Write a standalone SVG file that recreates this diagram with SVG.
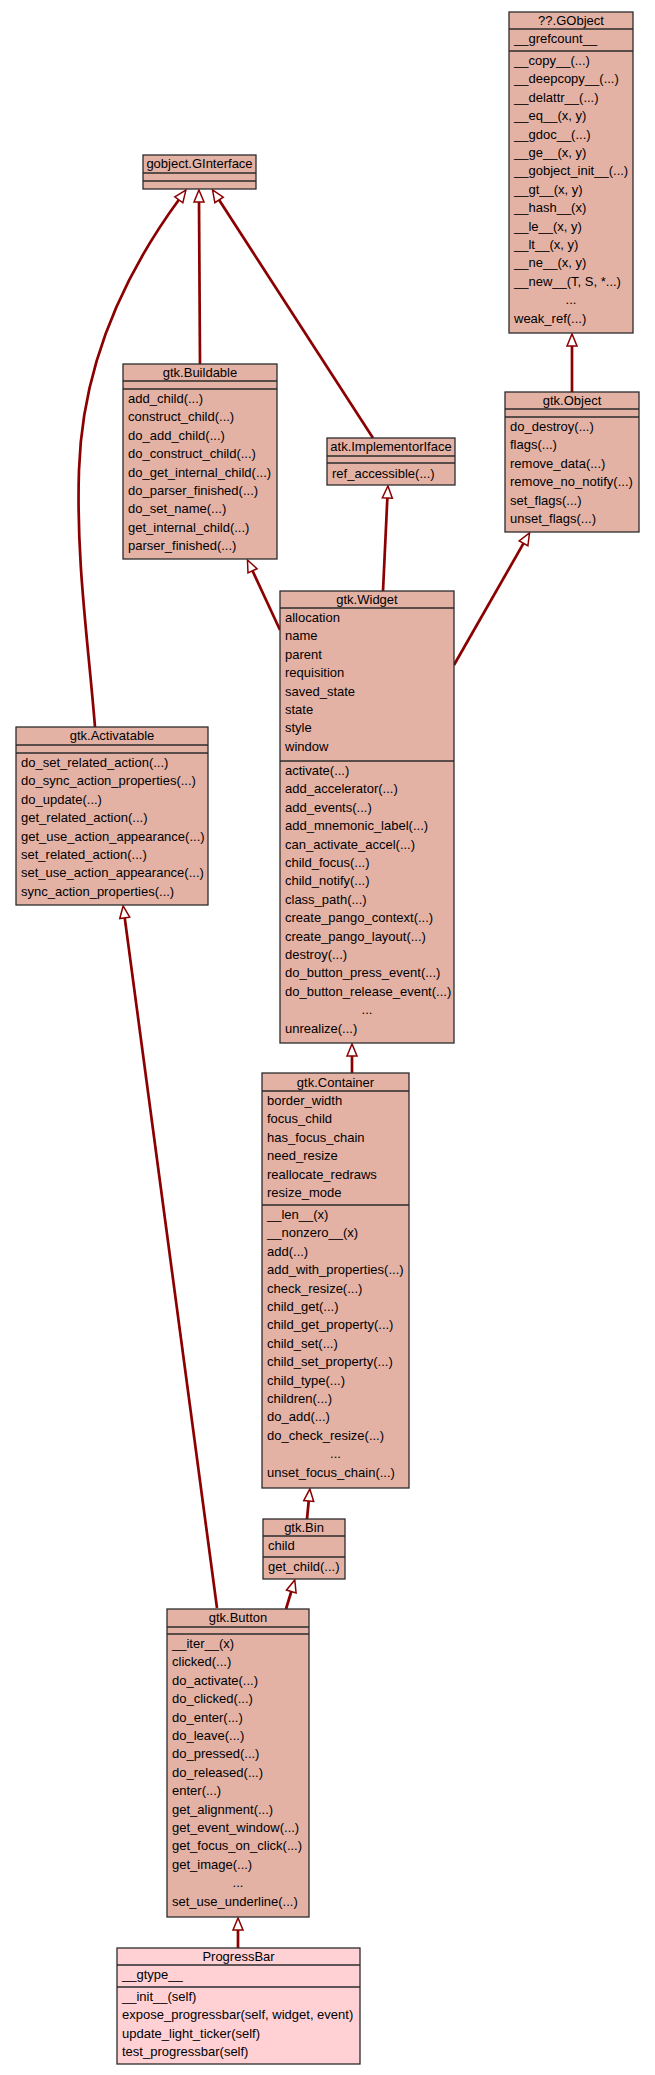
<svg xmlns="http://www.w3.org/2000/svg" width="655" height="2075" viewBox="0 0 655 2075">
<style>
.box{fill:#e4b2a5;stroke:#2b2b2b;stroke-width:1.3}
.pb{fill:#ffd1d5}
.sep{stroke:#2b2b2b;stroke-width:1.3}
text{font-family:"Liberation Sans",Arial,sans-serif;font-size:13px;fill:#000}
.t{text-anchor:middle}
.e{fill:none;stroke:#8b0000;stroke-width:2.7}
</style>
<defs>
<marker id="arr" markerUnits="userSpaceOnUse" markerWidth="16" markerHeight="14" refX="1" refY="7" orient="auto" viewBox="-1 0 16 14" overflow="visible">
<path d="M0,2 L12,7 L0,12 Z" fill="#ffffff" stroke="#8b0000" stroke-width="1.5"/>
</marker>
</defs>
<rect width="655" height="2075" fill="#ffffff"/>
<g id="edges">
<path class="e" marker-end="url(#arr)" d="M200,364 L199,201"/>
<path class="e" marker-end="url(#arr)" d="M373,438 L218.5,199.1"/>
<path class="e" marker-end="url(#arr)" d="M95,727 C88,640 76,560 79,470 C82,370 120,280 179.4,199"/>
<path class="e" marker-end="url(#arr)" d="M572,392 L572,345"/>
<path class="e" marker-end="url(#arr)" d="M383,591 L387.4,497"/>
<path class="e" marker-end="url(#arr)" d="M280,630 L252.1,569.9"/>
<path class="e" marker-end="url(#arr)" d="M454,665 L524.05,542.4"/>
<path class="e" marker-end="url(#arr)" d="M352,1073 L352,1055"/>
<path class="e" marker-end="url(#arr)" d="M307,1519 L308.8,1500"/>
<path class="e" marker-end="url(#arr)" d="M286,1609 L291.6,1590.5"/>
<path class="e" marker-end="url(#arr)" d="M217,1608 L124.6,916.9"/>
<path class="e" marker-end="url(#arr)" d="M238,1948 L238,1929"/>
</g>
<g id="GInterface">
<rect class="box" x="143" y="155" width="113" height="34"/>
<line class="sep" x1="143" y1="173" x2="256" y2="173"/>
<line class="sep" x1="143" y1="181" x2="256" y2="181"/>
<text class="t" x="199.5" y="168">gobject.GInterface</text>
</g>
<g id="GObject">
<rect class="box" x="509" y="12" width="124" height="321"/>
<line class="sep" x1="509" y1="29" x2="633" y2="29"/>
<line class="sep" x1="509" y1="51" x2="633" y2="51"/>
<text class="t" x="571" y="25">??.GObject</text>
<text x="514" y="43">__grefcount__</text>
<text x="514" y="65">__copy__(...)</text>
<text x="514" y="83.4">__deepcopy__(...)</text>
<text x="514" y="101.8">__delattr__(...)</text>
<text x="514" y="120.2">__eq__(x, y)</text>
<text x="514" y="138.6">__gdoc__(...)</text>
<text x="514" y="157">__ge__(x, y)</text>
<text x="514" y="175.4">__gobject_init__(...)</text>
<text x="514" y="193.8">__gt__(x, y)</text>
<text x="514" y="212.2">__hash__(x)</text>
<text x="514" y="230.6">__le__(x, y)</text>
<text x="514" y="249">__lt__(x, y)</text>
<text x="514" y="267.4">__ne__(x, y)</text>
<text x="514" y="285.8">__new__(T, S, *...)</text>
<text class="t" x="571" y="304.2">...</text>
<text x="514" y="322.6">weak_ref(...)</text>
</g>
<g id="Buildable">
<rect class="box" x="123" y="364" width="154" height="195"/>
<line class="sep" x1="123" y1="381" x2="277" y2="381"/>
<line class="sep" x1="123" y1="389" x2="277" y2="389"/>
<text class="t" x="200" y="377">gtk.Buildable</text>
<text x="128" y="403">add_child(...)</text>
<text x="128" y="421.4">construct_child(...)</text>
<text x="128" y="439.8">do_add_child(...)</text>
<text x="128" y="458.2">do_construct_child(...)</text>
<text x="128" y="476.6">do_get_internal_child(...)</text>
<text x="128" y="495">do_parser_finished(...)</text>
<text x="128" y="513.4">do_set_name(...)</text>
<text x="128" y="531.8">get_internal_child(...)</text>
<text x="128" y="550.2">parser_finished(...)</text>
</g>
<g id="ImplementorIface">
<rect class="box" x="327" y="438" width="128" height="47"/>
<line class="sep" x1="327" y1="456" x2="455" y2="456"/>
<line class="sep" x1="327" y1="463" x2="455" y2="463"/>
<text class="t" x="391" y="451">atk.ImplementorIface</text>
<text x="332" y="478">ref_accessible(...)</text>
</g>
<g id="Object">
<rect class="box" x="505" y="392" width="134" height="140"/>
<line class="sep" x1="505" y1="409" x2="639" y2="409"/>
<line class="sep" x1="505" y1="417" x2="639" y2="417"/>
<text class="t" x="572" y="405">gtk.Object</text>
<text x="510" y="431">do_destroy(...)</text>
<text x="510" y="449.4">flags(...)</text>
<text x="510" y="467.8">remove_data(...)</text>
<text x="510" y="486.2">remove_no_notify(...)</text>
<text x="510" y="504.6">set_flags(...)</text>
<text x="510" y="523">unset_flags(...)</text>
</g>
<g id="Widget">
<rect class="box" x="280" y="591" width="174" height="452"/>
<line class="sep" x1="280" y1="608" x2="454" y2="608"/>
<line class="sep" x1="280" y1="761" x2="454" y2="761"/>
<text class="t" x="367" y="604">gtk.Widget</text>
<text x="285" y="622">allocation</text>
<text x="285" y="640.4">name</text>
<text x="285" y="658.8">parent</text>
<text x="285" y="677.2">requisition</text>
<text x="285" y="695.6">saved_state</text>
<text x="285" y="714">state</text>
<text x="285" y="732.4">style</text>
<text x="285" y="750.8">window</text>
<text x="285" y="775">activate(...)</text>
<text x="285" y="793.4">add_accelerator(...)</text>
<text x="285" y="811.8">add_events(...)</text>
<text x="285" y="830.2">add_mnemonic_label(...)</text>
<text x="285" y="848.6">can_activate_accel(...)</text>
<text x="285" y="867">child_focus(...)</text>
<text x="285" y="885.4">child_notify(...)</text>
<text x="285" y="903.8">class_path(...)</text>
<text x="285" y="922.2">create_pango_context(...)</text>
<text x="285" y="940.6">create_pango_layout(...)</text>
<text x="285" y="959">destroy(...)</text>
<text x="285" y="977.4">do_button_press_event(...)</text>
<text x="285" y="995.8">do_button_release_event(...)</text>
<text class="t" x="367" y="1014.2">...</text>
<text x="285" y="1032.6">unrealize(...)</text>
</g>
<g id="Activatable">
<rect class="box" x="16" y="727" width="192" height="178"/>
<line class="sep" x1="16" y1="745" x2="208" y2="745"/>
<line class="sep" x1="16" y1="753" x2="208" y2="753"/>
<text class="t" x="112" y="740">gtk.Activatable</text>
<text x="21" y="767">do_set_related_action(...)</text>
<text x="21" y="785.4">do_sync_action_properties(...)</text>
<text x="21" y="803.8">do_update(...)</text>
<text x="21" y="822.2">get_related_action(...)</text>
<text x="21" y="840.6">get_use_action_appearance(...)</text>
<text x="21" y="859">set_related_action(...)</text>
<text x="21" y="877.4">set_use_action_appearance(...)</text>
<text x="21" y="895.8">sync_action_properties(...)</text>
</g>
<g id="Container">
<rect class="box" x="262" y="1073" width="147" height="415"/>
<line class="sep" x1="262" y1="1091" x2="409" y2="1091"/>
<line class="sep" x1="262" y1="1205" x2="409" y2="1205"/>
<text class="t" x="335.5" y="1087">gtk.Container</text>
<text x="267" y="1105">border_width</text>
<text x="267" y="1123.4">focus_child</text>
<text x="267" y="1141.8">has_focus_chain</text>
<text x="267" y="1160.2">need_resize</text>
<text x="267" y="1178.6">reallocate_redraws</text>
<text x="267" y="1197">resize_mode</text>
<text x="267" y="1219">__len__(x)</text>
<text x="267" y="1237.4">__nonzero__(x)</text>
<text x="267" y="1255.8">add(...)</text>
<text x="267" y="1274.2">add_with_properties(...)</text>
<text x="267" y="1292.6">check_resize(...)</text>
<text x="267" y="1311">child_get(...)</text>
<text x="267" y="1329.4">child_get_property(...)</text>
<text x="267" y="1347.8">child_set(...)</text>
<text x="267" y="1366.2">child_set_property(...)</text>
<text x="267" y="1384.6">child_type(...)</text>
<text x="267" y="1403">children(...)</text>
<text x="267" y="1421.4">do_add(...)</text>
<text x="267" y="1439.8">do_check_resize(...)</text>
<text class="t" x="335.5" y="1458.2">...</text>
<text x="267" y="1476.6">unset_focus_chain(...)</text>
</g>
<g id="Bin">
<rect class="box" x="263" y="1519" width="82" height="60"/>
<line class="sep" x1="263" y1="1536" x2="345" y2="1536"/>
<line class="sep" x1="263" y1="1557" x2="345" y2="1557"/>
<text class="t" x="304" y="1532">gtk.Bin</text>
<text x="268" y="1550">child</text>
<text x="268" y="1571">get_child(...)</text>
</g>
<g id="Button">
<rect class="box" x="167" y="1609" width="142" height="308"/>
<line class="sep" x1="167" y1="1627" x2="309" y2="1627"/>
<line class="sep" x1="167" y1="1634" x2="309" y2="1634"/>
<text class="t" x="238" y="1622">gtk.Button</text>
<text x="172" y="1648">__iter__(x)</text>
<text x="172" y="1666.4">clicked(...)</text>
<text x="172" y="1684.8">do_activate(...)</text>
<text x="172" y="1703.2">do_clicked(...)</text>
<text x="172" y="1721.6">do_enter(...)</text>
<text x="172" y="1740">do_leave(...)</text>
<text x="172" y="1758.4">do_pressed(...)</text>
<text x="172" y="1776.8">do_released(...)</text>
<text x="172" y="1795.2">enter(...)</text>
<text x="172" y="1813.6">get_alignment(...)</text>
<text x="172" y="1832">get_event_window(...)</text>
<text x="172" y="1850.4">get_focus_on_click(...)</text>
<text x="172" y="1868.8">get_image(...)</text>
<text class="t" x="238" y="1887.2">...</text>
<text x="172" y="1905.6">set_use_underline(...)</text>
</g>
<g id="ProgressBar">
<rect class="box pb" x="117" y="1948" width="243" height="116"/>
<line class="sep" x1="117" y1="1965" x2="360" y2="1965"/>
<line class="sep" x1="117" y1="1987" x2="360" y2="1987"/>
<text class="t" x="238.5" y="1961">ProgressBar</text>
<text x="122" y="1979">__gtype__</text>
<text x="122" y="2001">__init__(self)</text>
<text x="122" y="2019.4">expose_progressbar(self, widget, event)</text>
<text x="122" y="2037.8">update_light_ticker(self)</text>
<text x="122" y="2056.2">test_progressbar(self)</text>
</g>
</svg>
